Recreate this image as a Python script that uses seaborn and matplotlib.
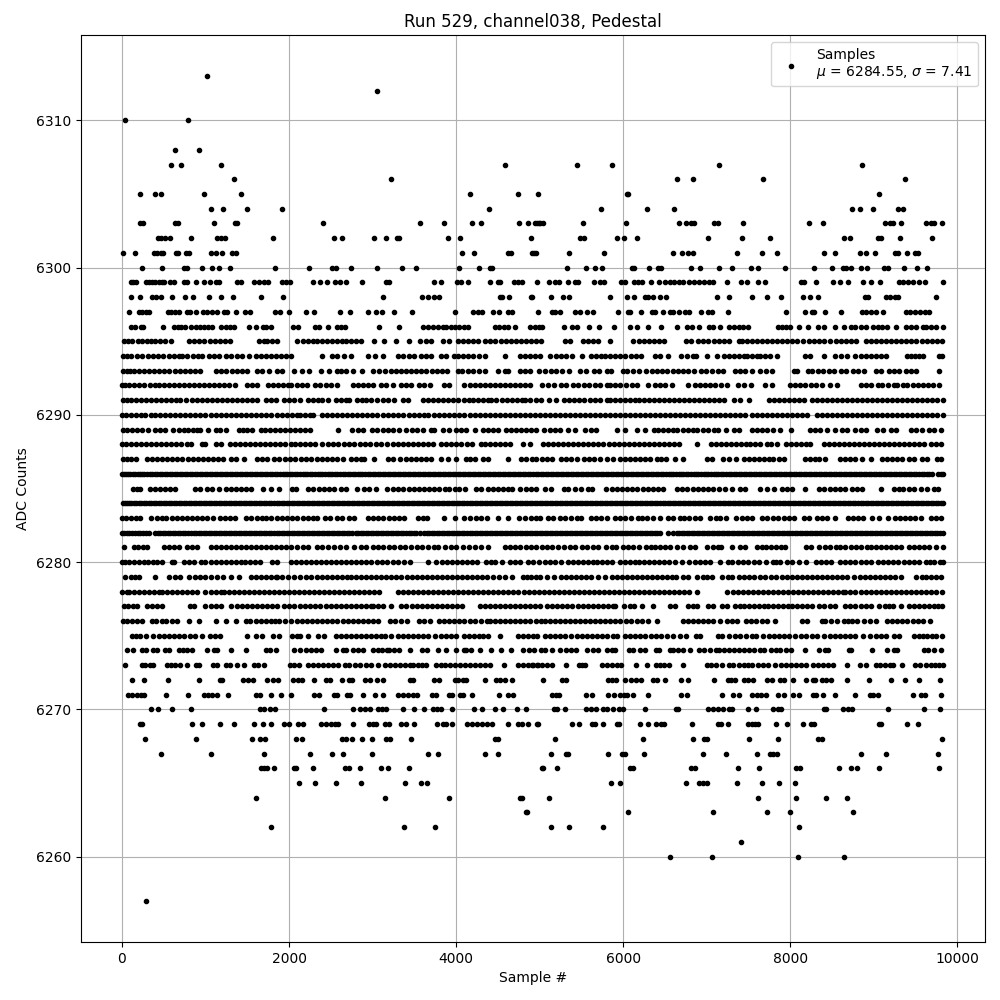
import pandas as pd
import seaborn as sns
import matplotlib
matplotlib.use("Agg")
import matplotlib.pyplot as plt

# sample numbers, one list per ADC level
adc_6313 = [1020]
adc_6312 = [3048]
adc_6310 = [36, 792]
adc_6308 = [636, 924]
adc_6307 = [588, 708, 1188, 4584, 5444, 5864, 7148, 8852]
adc_6306 = [1344, 3216, 6644, 6836, 7676, 9368]
adc_6305 = [216, 396, 468, 984, 1428, 4164, 4740, 4976, 6040, 6060, 9056]
adc_6304 = [1068, 1212, 1500, 1920, 4392, 5732, 6284, 6608, 8744, 8828, 8984, 9284, 9344]
adc_6303 = [216, 248, 636, 668, 1104, 1352, 1376, 2412, 3564, 3852, 4188, 4296, 4752, 4860, 4948, 4968, 4992, 5008, 5040,
            5516, 6036, 6668, 6748, 6812, 6848, 7084, 7132, 7436, 8228, 8396, 9128, 9188, 9224, 9320, 9620, 9680, 9716, 9812]
adc_6302 = [432, 464, 516, 576, 828, 1140, 1184, 1236, 1812, 2544, 2628, 3012, 3156, 3292, 3316, 3900, 4044, 4896,
            5488, 5528, 5924, 6008, 6164, 7016, 7424, 7760, 8648, 8720, 9048, 9080, 9308, 9692]
adc_6301 = [12, 156, 384, 424, 464, 488, 648, 668, 768, 800, 1068, 1128, 1200, 1320, 1364, 4068, 4212, 4616, 4656, 4908, 4936, 4952,
            5348, 5768, 6596, 6704, 6776, 6836, 7364, 7664, 7844, 8408, 8540, 8828, 8900, 9008, 9248, 9288, 9392, 9488, 9528]
adc_6300 = [240, 480, 744, 784, 964, 1080, 1164, 1296, 1836, 2244, 2520, 2568, 2736, 3048, 3348, 3516, 4036, 4272, 4400, 4424,
            5324, 5552, 5660, 5744, 6104, 6128, 6308, 6416, 6448, 6812, 6920, 7148, 7304, 7532, 7616, 7940, 8288, 8504, 8636,
            8668, 8732, 8840, 8912, 9116, 9168, 9356, 9512, 9632]
adc_6299 = [104, 128, 164, 284, 320, 360, 400, 440, 480, 504, 576, 624, 744, 776, 888, 984, 1056, 1128, 1164, 1380, 1424, 1584,
            1644, 1704, 1744, 1920, 1968, 2016, 2292, 2376, 2460, 2556, 2612, 2676, 2868, 3156, 3200, 3732, 3816, 4012, 4056,
            4140, 4404, 4500, 4524, 4692, 4736, 4792, 4964, 5108, 5188, 5236, 5336, 5420, 5460, 5648, 5720, 5768, 5968, 6016,
            6128, 6176, 6224, 6332, 6428, 6500, 6560, 6608, 6668, 6712, 6788, 6848, 6908, 6968, 7028, 7080, 7244, 7412, 7484,
            7616, 7700, 8132, 8168, 8304, 8516, 8600, 8696, 8864, 8960, 9068, 9296, 9348, 9408, 9468, 9536, 9608, 9824]
adc_6298 = [108, 216, 360, 408, 468, 600, 756, 852, 1044, 1188, 1332, 1668, 1932, 3120, 3588, 3660, 3732, 3792, 4524, 4544,
            4632, 4896, 4908, 5132, 5276, 5348, 5840, 6048, 6128, 6260, 6296, 6356, 6440, 6512, 7124, 7268, 7544, 7724, 7892,
            8156, 8240, 8336, 8888, 8928, 9140, 9188, 9248, 9288, 9740]
adc_6297 = [84, 204, 244, 284, 324, 552, 592, 632, 684, 780, 816, 892, 976, 1016, 1080, 1136, 1224, 1260, 1368, 1476, 1536, 1832,
            1896, 2000, 2208, 2304, 2604, 2724, 2940, 3036, 3108, 3252, 3468, 3984, 4200, 4256, 4312, 4440, 4512, 4624, 4672,
            4976, 5152, 5188, 5240, 5428, 5480, 5564, 5636, 5936, 6056, 6080, 6212, 6344, 6380, 6476, 6560, 6596, 6668, 6740,
            6788, 6932, 7016, 7068, 7256, 7952, 8180, 8264, 8288, 8420, 8612, 8852, 8908, 8968, 9028, 9108, 9388, 9428, 9488,
            9548, 9608, 9656]
adc_6296 = [104, 152, 224, 256, 496, 624, 668, 712, 760, 824, 884, 930, 980, 1030, 1080, 1180, 1244, 1288, 1344, 1524, 1600, 1684,
            1730, 1784, 2044, 2104, 2312, 2364, 2464, 2576, 2620, 2664, 3072, 3312, 3604, 3660, 3720, 3780, 3840, 3884, 3944,
            3990, 4040, 4090, 4144, 4464, 4510, 4570, 4624, 4704, 4884, 4940, 4990, 5024, 5288, 5388, 5448, 5588, 5708, 5884,
            6076, 6160, 6296, 6452, 6640, 6768, 6820, 6908, 7028, 7076, 7160, 7268, 7320, 7380, 7430, 7488, 7848, 7900, 7950,
            8000, 8108, 8216, 8328, 8408, 8536, 8648, 8728, 8780, 8840, 8900, 8988, 9048, 9100, 9160, 9268, 9388, 9448, 9508,
            9588, 9628, 9688, 9748, 9828]
adc_6295 = [24, 70, 120, 190, 240, 296, 352, 400, 460, 520, 584, 804, 860, 920, 980, 1056, 1110, 1170, 1230, 1296,
            1640, 1700, 1740, 1800, 1860, 2096, 2170, 2230, 2290, 2340, 2400, 2460, 2510, 2570, 2630, 2680, 2740, 2800, 2860,
            3016, 3136, 3280, 3436, 3572, 3640, 3700, 3840, 3910, 4020, 4080, 4140, 4200, 4260, 4340, 4400, 4460, 4540,
            4600, 4660, 4720, 4780, 4840, 4900, 4960, 5020, 5300, 5360, 5524, 5580, 5640, 5700, 5836, 6120, 6190, 6250, 6310,
            6370, 6430, 6490, 6750, 6810, 6900, 6960, 7020, 7090, 7150, 7210, 7260, 7380, 7420, 7480, 7540, 7606, 7660, 7720,
            7780, 7840, 7900, 7960, 8020, 8080, 8150, 8220, 8280, 8340, 8400, 8480, 8545, 8610, 8670, 8730, 8788, 8900, 8960,
            9030, 9090, 9150, 9210, 9270, 9330, 9390, 9450, 9510, 9570, 9630, 9690, 9750, 9820]
adc_6294 = [10, 60, 110, 180, 240, 310, 370, 430, 490, 560, 620, 680, 720, 780, 850, 910, 960, 1040, 1100, 1160, 1240, 1300, 1380,
            1440, 1520, 1600, 1660, 1720, 1790, 1840, 1900, 1960, 2020, 2400, 2520, 2580, 2660, 2740, 2950, 3030, 3130, 3310,
            3370, 3430, 3500, 3580, 3640, 3700, 3820, 3880, 3970, 4020, 4080, 4140, 4200, 4270, 4340, 4580, 4770, 4830, 4890,
            4940, 5000, 5120, 5190, 5260, 5320, 5390, 5510, 5610, 5670, 5730, 5780, 5840, 5900, 5960, 6020, 6090, 6150, 6210,
            6380, 6440, 6540, 6690, 6760, 6830, 6870, 7000, 7120, 7210, 7260, 7320, 7380, 7440, 7480, 7540, 7600, 7640, 7700,
            7760, 7840, 8180, 8240, 8400, 8540, 8610, 8680, 8780, 8840, 8900, 8960, 9020, 9080, 9150, 9440, 9490, 9590, 9820,
            9780, 9540, 9400]
adc_6293 = [16, 60, 100, 150, 210, 260, 320, 380, 440, 500, 560, 640, 700, 760, 820, 880, 940, 1120, 1180, 1240, 1320, 1380, 1440, 1500,
            1620, 1680, 1760, 1860, 1920, 2060, 2150, 2240, 2380, 2480, 2570, 2620, 2680, 2760, 2870, 3000, 3080, 3150, 3220,
            3280, 3340, 3400, 3460, 3520, 3580, 3640, 3710, 3770, 3830, 3890, 4020, 4070, 4140, 4200, 4270, 4340, 4500, 4580,
            4620, 4770, 4830, 4890, 4990, 5060, 5130, 5190, 5270, 5350, 5480, 5560, 5650, 5710, 5800, 5850, 6000, 6050, 6120,
            6190, 6270, 6340, 6400, 6460, 6520, 6600, 6660, 6720, 6780, 6850, 6930, 6990, 7060, 7130, 7200, 7340, 7400, 7460,
            7540, 7640, 7710, 7780, 8040, 8080, 8210, 8260, 8330, 8390, 8460, 8520, 8610, 8670, 8750, 8810, 8880, 9020, 9080,
            9180, 9240, 9300, 9390, 9440, 9500, 9780]
adc_6292 = [0, 40, 90, 150, 210, 270, 330, 390, 440, 500, 560, 620, 680, 740, 800, 860, 920, 980, 1040, 1100, 1160, 1220, 1280,
            1350, 1500, 1560, 1620, 1750, 1810, 1870, 1930, 1990, 2020, 2100, 2160, 2220, 2310, 2370, 2440, 2500, 2570, 2760,
            2820, 2880, 2940, 3000, 3100, 3160, 3240, 3340, 3400, 3460, 3560, 3620, 3690, 3850, 3910, 4100, 4160, 4220, 4280,
            4340, 4400, 4460, 4520, 4580, 4640, 4700, 4760, 4820, 4880, 5030, 5100, 5170, 5250, 5320, 5400, 5460, 5530, 5590,
            5660, 5720, 5800, 5840, 5900, 5960, 6030, 6100, 6170, 6300, 6380, 6440, 6500, 6580, 6780, 6860, 6920, 6980, 7040,
            7100, 7170, 7240, 7370, 7440, 7530, 7700, 7780, 8000, 8060, 8120, 8170, 8250, 8310, 8380, 8480, 8560, 8850, 8900,
            8970, 9050, 9100, 9170, 9240, 9280, 9350, 9400, 9470, 9530, 9590, 9650, 9710, 9780]
adc_6291 = [8, 60, 110, 170, 230, 290, 350, 410, 470, 530, 590, 650, 700, 770, 840, 900, 960, 1020, 1080, 1140, 1200, 1260, 1320, 1380,
            1440, 1500, 1560, 1620, 1720, 1780, 1840, 1940, 2000, 2060, 2130, 2230, 2290, 2350, 2400, 2470, 2560, 2620, 2680,
            2720, 2810, 2870, 2920, 2980, 3050, 3120, 3190, 3260, 3360, 3420, 3600, 3660, 3720, 3780, 3840, 3900, 3960, 4020,
            4090, 4150, 4200, 4260, 4320, 4380, 4420, 4480, 4550, 4610, 4670, 4730, 4790, 4830, 4890, 4950, 5020, 5110, 5200,
            5290, 5350, 5410, 5470, 5530, 5600, 5660, 5720, 5800, 5840, 5900, 5960, 6020, 6080, 6140, 6190, 6250, 6310, 6370,
            6430, 6490, 6550, 6610, 6670, 6730, 6790, 6850, 6910, 6970, 7030, 7090, 7150, 7210, 7320, 7400, 7500, 7740, 7800,
            7860, 7920, 7980, 8040, 8100, 8160, 8260, 8320, 8380, 8440, 8500, 8560, 8620, 8680, 8740, 8800, 8860, 8920, 8980,
            9040, 9100, 9160, 9220, 9280, 9340, 9400, 9460, 9520, 9580, 9640, 9700, 9760, 9830]
adc_6290 = [0, 50, 110, 170, 230, 280, 350, 400, 460, 520, 580, 640, 700, 760, 820, 880, 940, 1000, 1060, 1130, 1190, 1250, 1310, 1370,
            1430, 1490, 1550, 1610, 1670, 1730, 1790, 1850, 1910, 1970, 2030, 2090, 2130, 2190, 2250, 2290, 2390, 2450, 2510,
            2570, 2630, 2690, 2750, 2810, 2870, 2930, 2990, 3050, 3130, 3190, 3250, 3310, 3370, 3430, 3500, 3550, 3610, 3660,
            3740, 3800, 3860, 3920, 3980, 4040, 4100, 4160, 4220, 4280, 4340, 4400, 4460, 4520, 4580, 4640, 4700, 4760, 4820,
            4880, 4940, 5000, 5060, 5120, 5180, 5240, 5300, 5360, 5420, 5480, 5540, 5600, 5660, 5720, 5780, 5840, 5900, 5960,
            6020, 6080, 6140, 6200, 6260, 6320, 6380, 6440, 6500, 6560, 6620, 6680, 6740, 6800, 6860, 6920, 6980, 7040, 7100,
            7160, 7220, 7280, 7340, 7400, 7460, 7540, 7600, 7660, 7720, 7780, 7840, 7900, 7960, 8020, 8080, 8140, 8200, 8320,
            8380, 8440, 8500, 8560, 8620, 8680, 8740, 8800, 8860, 8920, 8980, 9040, 9100, 9160, 9220, 9280, 9340, 9400, 9460,
            9520, 9580, 9640, 9700, 9760, 9830]
adc_6289 = [16, 60, 120, 180, 240, 310, 400, 450, 520, 610, 680, 740, 790, 850, 900, 940, 1030, 1120, 1170, 1240, 1400, 1450, 1500,
            1560, 1660, 1710, 1770, 1830, 1890, 1950, 2010, 2070, 2130, 2190, 2250, 2590, 2750, 2820, 2880, 2990, 3050, 3130,
            3190, 3250, 3320, 3400, 3470, 3530, 3600, 3700, 3740, 3840, 3910, 4000, 4060, 4120, 4220, 4320, 4380, 4440, 4500,
            4600, 4660, 4720, 4780, 4840, 4900, 4960, 5050, 5120, 5180, 5240, 5340, 5420, 5540, 5610, 5680, 5920, 6020, 6170,
            6260, 6370, 6420, 6480, 6540, 6600, 6640, 6710, 6780, 6830, 6880, 6950, 7020, 7090, 7140, 7230, 7320, 7380, 7540,
            7600, 7660, 7720, 7790, 7880, 8010, 8230, 8300, 8360, 8440, 8540, 8620, 8680, 8780, 8840, 8910, 9040, 9110, 9200,
            9270, 9440, 9500, 9570, 9660, 9720, 9800]
adc_6288 = [0, 50, 110, 170, 230, 290, 350, 410, 470, 530, 590, 650, 710, 780, 830, 960, 1000, 1130, 1190, 1290, 1350, 1410, 1470, 1530,
            1590, 1650, 1710, 1770, 1830, 1890, 1950, 2020, 2070, 2130, 2190, 2250, 2310, 2400, 2470, 2530, 2590, 2660, 2720,
            2780, 2850, 2910, 2970, 3040, 3100, 3170, 3240, 3300, 3360, 3420, 3480, 3540, 3600, 3660, 3720, 3820, 3880, 3940,
            4000, 4060, 4130, 4190, 4300, 4350, 4410, 4470, 4530, 4590, 4650, 4800, 4890, 5040, 5100, 5160, 5220, 5280, 5340,
            5400, 5460, 5520, 5580, 5640, 5700, 5760, 5830, 5890, 5950, 6010, 6070, 6130, 6190, 6250, 6310, 6370, 6430, 6490,
            6550, 6610, 6670, 6880, 7050, 7110, 7170, 7230, 7290, 7350, 7410, 7470, 7520, 7580, 7640, 7720, 7770, 7840, 7950,
            8010, 8070, 8130, 8190, 8240, 8400, 8460, 8520, 8580, 8640, 8700, 8760, 8820, 8880, 8940, 9000, 9060, 9120, 9180,
            9240, 9300, 9360, 9420, 9480, 9540, 9600, 9680, 9740, 9800]
adc_6287 = [16, 60, 110, 170, 300, 360, 420, 480, 540, 600, 660, 720, 790, 850, 910, 970, 1030, 1090, 1150, 1210, 1310, 1370, 1460,
            1620, 1680, 1740, 1820, 1880, 1950, 2010, 2070, 2140, 2200, 2260, 2330, 2390, 2450, 2520, 2580, 2650, 2740, 2800, 2860,
            2900, 3020, 3180, 3240, 3330, 3400, 3460, 3520, 3580, 3640, 3700, 3820, 3900, 4000, 4120, 4170, 4230, 4320, 4380,
            4620, 4780, 4840, 4910, 4960, 5030, 5090, 5150, 5250, 5310, 5370, 5450, 5530, 5590, 5650, 5720, 5800, 5880, 5960,
            6020, 6080, 6140, 6200, 6260, 6320, 6400, 6450, 6510, 6620, 6720, 7000, 7060, 7200, 7260, 7350, 7440, 7500, 7560,
            7620, 7680, 7740, 7790, 7860, 7920, 8170, 8240, 8290, 8340, 8410, 8590, 8650, 8710, 8780, 8860, 8960, 9100, 9160,
            9220, 9280, 9340, 9420, 9480, 9580, 9640, 9760, 9800]
adc_6286 = [0, 50, 100, 160, 220, 270, 330, 390, 450, 510, 570, 630, 690, 750, 810, 870, 930, 990, 1050, 1110, 1170, 1230, 1290,
            1350, 1410, 1470, 1530, 1590, 1650, 1710, 1770, 1830, 1890, 1950, 2010, 2070, 2130, 2190, 2250, 2310, 2370, 2430,
            2490, 2550, 2610, 2670, 2730, 2790, 2850, 2910, 2970, 3030, 3090, 3150, 3210, 3270, 3330, 3390, 3450, 3510, 3570,
            3630, 3690, 3750, 3810, 3870, 3930, 3990, 4050, 4110, 4170, 4230, 4290, 4350, 4410, 4470, 4530, 4590, 4650, 4710,
            4770, 4830, 4890, 4950, 5010, 5070, 5130, 5190, 5250, 5310, 5370, 5430, 5490, 5550, 5610, 5670, 5730, 5790, 5850,
            5910, 5970, 6030, 6090, 6150, 6210, 6270, 6330, 6390, 6450, 6510, 6570, 6630, 6690, 6750, 6810, 6870, 6930, 6990,
            7050, 7110, 7170, 7230, 7290, 7350, 7410, 7470, 7530, 7590, 7650, 7710, 7770, 7830, 7890, 7950, 8010, 8070, 8130,
            8190, 8250, 8310, 8370, 8430, 8490, 8550, 8610, 8670, 8730, 8790, 8850, 8910, 8970, 9030, 9090, 9150, 9210, 9270,
            9330, 9390, 9450, 9510, 9570, 9630, 9700, 9770, 9830,
            24, 76, 128, 190, 244, 300, 362, 420, 478, 540, 598, 662, 720, 782, 838, 900, 962, 1020, 1082, 1140, 1202, 1258,
            1322, 1380, 1440, 1498, 1562, 1620, 1682, 1738, 1802, 1858, 1922, 1980, 2040, 2098, 2162, 2220, 2280, 2342, 2400,
            2462, 2520, 2580, 2642, 2700, 2762, 2820, 2878, 2942, 3002, 3060, 3120, 3182, 3240, 3302, 3360, 3422, 3480, 3540,
            3602, 3660, 3720, 3782, 3840, 3900, 3962, 4020, 4082, 4140, 4200, 4262, 4320, 4380, 4442, 4500, 4562, 4620, 4682,
            4740, 4800, 4862, 4920, 4982, 5040, 5100, 5162, 5220, 5282, 5340, 5400, 5462, 5520, 5582, 5640, 5702, 5760, 5820,
            5880, 5942, 6000, 6062, 6120, 6182, 6240, 6302, 6360, 6422, 6480, 6542, 6600, 6662, 6720, 6780, 6842, 6900, 6962,
            7020, 7082, 7140, 7200, 7262, 7320, 7382, 7440, 7502, 7560, 7622, 7680, 7742, 7800, 7860, 7922, 7980, 8042, 8100,
            8162, 8220, 8280, 8342, 8400, 8462, 8520, 8582, 8640, 8702, 8760, 8820, 8882, 8940, 9002, 9060, 9122, 9180, 9242,
            9300, 9360, 9422, 9480, 9542, 9600, 9662, 9800]
adc_6285 = [130, 180, 220, 340, 400, 460, 510, 580, 640, 880, 940, 1020, 1080, 1160, 1240, 1300, 1360, 1420, 1480, 1540, 1690, 1780,
            1880, 2030, 2080, 2230, 2290, 2360, 2420, 2480, 2540, 2620, 2680, 2810, 2900, 2960, 3040, 3170, 3240, 3300, 3360,
            3440, 3500, 3560, 3620, 3680, 3740, 3800, 3870, 3920, 3990, 4040, 4110, 4240, 4300, 4380, 4440, 4500, 4560, 4620,
            4670, 4760, 4840, 4900, 4960, 5060, 5130, 5290, 5340, 5420, 5500, 5580, 5630, 5790, 5860, 5920, 5980, 6050, 6110,
            6170, 6240, 6300, 6360, 6420, 6480, 6640, 6700, 6760, 6830, 6890, 6950, 7010, 7080, 7150, 7220, 7300, 7400, 7460,
            7640, 7720, 7800, 7900, 7960, 8020, 8170, 8340, 8400, 8480, 8540, 8600, 8660, 8740, 8800, 8860, 9090, 9240, 9300,
            9350, 9420, 9480, 9560, 9640, 9720, 9770]
adc_6284 = [16, 60, 110, 170, 230, 290, 350, 410, 470, 530, 590, 650, 710, 770, 830, 890, 950, 1010, 1070, 1130, 1190, 1250, 1310,
            1370, 1430, 1490, 1550, 1610, 1670, 1730, 1790, 1850, 1910, 1970, 2030, 2090, 2150, 2210, 2270, 2330, 2390, 2450,
            2510, 2570, 2630, 2690, 2750, 2810, 2870, 2930, 2990, 3050, 3110, 3170, 3230, 3290, 3350, 3410, 3470, 3530, 3590,
            3650, 3710, 3770, 3830, 3890, 3950, 4010, 4070, 4130, 4190, 4250, 4310, 4370, 4430, 4490, 4550, 4610, 4670, 4730,
            4790, 4850, 4910, 4970, 5030, 5090, 5150, 5210, 5270, 5330, 5390, 5450, 5510, 5570, 5630, 5690, 5750, 5810, 5870,
            5930, 5990, 6050, 6110, 6170, 6230, 6290, 6350, 6410, 6470, 6530, 6590, 6650, 6710, 6770, 6830, 6890, 6950, 7010,
            7070, 7130, 7190, 7250, 7310, 7370, 7430, 7490, 7550, 7610, 7670, 7730, 7790, 7850, 7910, 7970, 8030, 8090, 8150,
            8210, 8270, 8330, 8390, 8450, 8510, 8570, 8630, 8690, 8750, 8810, 8870, 8930, 8990, 9050, 9110, 9170, 9230, 9290,
            9350, 9410, 9470, 9530, 9590, 9650, 9710, 9770, 9830,
            38, 84, 140, 200, 260, 320, 380, 440, 500, 560, 620, 680, 740, 800, 860, 920, 980, 1040, 1100, 1160, 1220, 1280,
            1340, 1400, 1460, 1520, 1580, 1640, 1700, 1760, 1820, 1880, 1940, 2000, 2060, 2120, 2180, 2240, 2300, 2360, 2420,
            2480, 2540, 2600, 2660, 2720, 2780, 2840, 2900, 2960, 3020, 3080, 3140, 3200, 3260, 3320, 3380, 3440, 3500, 3560,
            3620, 3680, 3740, 3800, 3860, 3920, 3980, 4040, 4100, 4160, 4220, 4280, 4340, 4400, 4460, 4520, 4580, 4640, 4700,
            4760, 4820, 4880, 4940, 5000, 5060, 5120, 5180, 5240, 5300, 5360, 5420, 5480, 5540, 5600, 5660, 5720, 5780, 5840,
            5900, 5960, 6020, 6080, 6140, 6200, 6260, 6320, 6380, 6440, 6500, 6560, 6620, 6680, 6740, 6800, 6860, 6920, 6980,
            7040, 7100, 7160, 7220, 7280, 7340, 7400, 7460, 7520, 7580, 7640, 7700, 7760, 7820, 7880, 7940, 8000, 8060, 8120,
            8180, 8240, 8300, 8360, 8420, 8480, 8540, 8600, 8660, 8720, 8780, 8840, 8900, 8960, 9020, 9080, 9140, 9200, 9260,
            9320, 9380, 9440, 9500, 9560, 9620, 9680, 9740, 9800]
adc_6283 = [0, 50, 110, 170, 220, 350, 420, 480, 530, 600, 660, 720, 780, 840, 900, 960, 1020, 1090, 1170, 1230, 1290, 1350, 1480,
            1540, 1620, 1680, 1730, 1790, 1860, 1920, 1980, 2040, 2100, 2170, 2230, 2290, 2340, 2430, 2490, 2570, 2630, 2720, 2780,
            2950, 3010, 3070, 3130, 3200, 3260, 3320, 3380, 3540, 3600, 3650, 3860, 3990, 4100, 4160, 4240, 4300, 4370,
            4500, 4620, 4750, 4820, 4900, 4960, 5000, 5100, 5160, 5240, 5300, 5380, 5450, 5500, 5610, 5670, 5730, 5800, 5900,
            5960, 6020, 6090, 6180, 6230, 6290, 6360, 6440, 6540, 6600, 6680, 6730, 6790, 6860, 6920, 7040, 7110, 7160, 7230,
            7350, 7420, 7480, 7540, 7660, 7720, 7790, 7850, 7920, 7980, 8040, 8160, 8220, 8320, 8380, 8440, 8530, 8690, 8750,
            8810, 8870, 8980, 9060, 9170, 9250, 9310, 9370, 9430, 9490, 9560, 9680, 9740, 9800]
adc_6282 = [0, 60, 120, 190, 250, 320, 400, 460, 520, 580, 640, 700, 760, 830, 890, 950, 1010, 1070, 1130, 1190, 1250, 1310, 1370,
            1430, 1490, 1550, 1610, 1670, 1730, 1790, 1850, 1910, 1970, 2030, 2090, 2150, 2210, 2270, 2330, 2390, 2450, 2510,
            2570, 2630, 2690, 2750, 2800, 2860, 2920, 2980, 3040, 3100, 3160, 3220, 3280, 3340, 3400, 3460, 3520, 3570, 3620, 3680,
            3740, 3800, 3860, 3920, 3980, 4040, 4100, 4160, 4220, 4280, 4340, 4400, 4460, 4520, 4580, 4640, 4700, 4760, 4820,
            4880, 4940, 5000, 5060, 5120, 5180, 5240, 5300, 5360, 5420, 5480, 5540, 5600, 5660, 5720, 5780, 5840, 5900, 5960,
            6020, 6080, 6140, 6200, 6260, 6320, 6380, 6440, 6540, 6590, 6640, 6700, 6760, 6820, 6880, 6940, 7000, 7060, 7120,
            7180, 7240, 7300, 7360, 7420, 7480, 7540, 7600, 7660, 7720, 7780, 7840, 7900, 7960, 8020, 8080, 8140, 8200, 8260,
            8320, 8380, 8440, 8500, 8560, 8620, 8680, 8740, 8800, 8860, 8920, 8980, 9040, 9100, 9160, 9220, 9280, 9340, 9400,
            9460, 9520, 9580, 9640, 9700, 9760, 9830,
            30, 90, 155, 220, 285, 430, 490, 550, 610, 670, 730, 795, 860, 920, 980, 1040, 1100, 1160, 1220, 1280, 1340, 1400,
            1460, 1520, 1580, 1640, 1700, 1760, 1820, 1880, 1940, 2000, 2060, 2120, 2180, 2240, 2300, 2360, 2420, 2480, 2540,
            2600, 2660, 2720, 2830, 2890, 2950, 3010, 3070, 3130, 3190, 3250, 3310, 3370, 3430, 3490, 3650, 3710, 3770, 3830,
            3890, 3950, 4010, 4070, 4130, 4190, 4250, 4310, 4370, 4430, 4490, 4550, 4610, 4670, 4730, 4790, 4850, 4910, 4970,
            5030, 5090, 5150, 5210, 5270, 5330, 5390, 5450, 5510, 5570, 5630, 5690, 5750, 5810, 5870, 5930, 5990, 6050, 6110,
            6170, 6230, 6290, 6350, 6410, 6670, 6730, 6790, 6850, 6910, 6970, 7030, 7090, 7150, 7210, 7270, 7330, 7390, 7450,
            7510, 7570, 7630, 7690, 7750, 7810, 7870, 7930, 7990, 8050, 8110, 8170, 8230, 8290, 8350, 8410, 8470, 8530, 8590,
            8650, 8710, 8770, 8830, 8890, 8950, 9010, 9070, 9130, 9190, 9250, 9310, 9370, 9430, 9490, 9550, 9610, 9670, 9730, 9790]
adc_6281 = [24, 140, 190, 250, 300, 500, 560, 620, 680, 780, 840, 900, 1060, 1130, 1190, 1250, 1310, 1370, 1430, 1490, 1550, 1600, 1660, 1720,
            1780, 1840, 1900, 1960, 2020, 2100, 2170, 2230, 2340, 2400, 2470, 2540, 2610, 2680, 2780, 2860, 2920, 3000, 3070,
            3130, 3200, 3260, 3330, 3390, 3460, 3530, 3590, 3660, 3730, 3780, 3870, 3940, 4000, 4080, 4150, 4220, 4300, 4380,
            4580, 4640, 4700, 4760, 4840, 4900, 4960, 5030, 5090, 5150, 5220, 5290, 5360, 5420, 5510, 5570, 5640, 5700, 5790,
            5860, 5910, 6000, 6060, 6120, 6190, 6270, 6330, 6380, 6440, 6500, 6560, 6640, 6720, 6800, 6860, 7000, 7080, 7140,
            7170, 7300, 7400, 7460, 7600, 7660, 7710, 7770, 7830, 7890, 7940, 8190, 8250, 8340, 8420, 8480, 8550,
            8600, 8660, 8730, 8790, 8850, 8920, 8970, 9030, 9090, 9150, 9210, 9270, 9330, 9420, 9480, 9540, 9600, 9660, 9740, 9830]
adc_6280 = [0, 40, 90, 150, 200, 260, 310, 370, 420, 480, 600, 620, 740, 800, 860, 950, 1000, 1060, 1120, 1180, 1240, 1300, 1360, 1420,
            1470, 1530, 1590, 1650, 1800, 1860, 2020, 2080, 2140, 2200, 2260, 2320, 2380, 2440, 2500, 2560, 2620, 2680, 2740,
            2800, 2860, 2920, 2980, 3050, 3110, 3170, 3240, 3300, 3380, 3450, 3660, 3760, 3830, 3890, 3950, 4010, 4070, 4130,
            4190, 4250, 4360, 4420, 4470, 4550, 4640, 4700, 4770, 4860, 4920, 4990, 5060, 5120, 5180, 5250, 5340, 5400, 5460,
            5520, 5580, 5640, 5690, 5750, 5810, 5870, 5960, 6020, 6080, 6140, 6190, 6250, 6310, 6370, 6430, 6490, 6550, 6620,
            6700, 6790, 6860, 6920, 6980, 7040, 7160, 7250, 7300, 7370, 7430, 7490, 7560, 7620, 7710, 7790, 7830, 7880, 7960,
            8020, 8100, 8190, 8310, 8370, 8430, 8490, 8590, 8650, 8720, 8780, 8840, 8900, 8970, 9050, 9110, 9170, 9230, 9290,
            9360, 9420, 9480, 9540, 9620, 9670, 9720, 9790, 9830]
adc_6279 = [40, 110, 160, 210, 400, 560, 640, 690, 800, 870, 930, 990, 1060, 1140, 1210, 1310, 1400, 1540, 1600, 1660, 1720, 1780, 1840,
            1860, 1920, 1990, 2060, 2130, 2200, 2260, 2330, 2390, 2450, 2510, 2570, 2630, 2690, 2740, 2800, 2860, 2920, 2980,
            3040, 3100, 3160, 3220, 3280, 3340, 3410, 3470, 3530, 3590, 3650, 3710, 3770, 3830, 3890, 3950, 4010, 4070, 4130,
            4190, 4250, 4310, 4370, 4440, 4510, 4580, 4670, 4800, 4850, 4900, 4960, 5000, 5090, 5170, 5250, 5310, 5370, 5430,
            5490, 5550, 5620, 5700, 5780, 5860, 5920, 5980, 6040, 6100, 6160, 6220, 6280, 6340, 6400, 6460, 6520, 6580, 6630,
            6710, 6780, 6880, 6950, 7000, 7060, 7180, 7250, 7300, 7380, 7450, 7510, 7570, 7640, 7700, 7770, 7830, 7900, 7960,
            8020, 8080, 8140, 8200, 8260, 8320, 8380, 8440, 8500, 8560, 8620, 8680, 8760, 8830, 8890, 8950, 9010, 9070, 9130,
            9190, 9250, 9330, 9500, 9570, 9620, 9680, 9740, 9800]
adc_6278 = [0, 60, 90, 140, 200, 260, 320, 380, 440, 480, 540, 600, 660, 720, 780, 840, 900, 1000, 1060, 1120, 1180, 1220, 1280, 1340,
            1400, 1460, 1520, 1580, 1640, 1700, 1760, 1820, 1880, 1940, 2000, 2060, 2120, 2180, 2240, 2300, 2360, 2420, 2480,
            2540, 2600, 2660, 2720, 2780, 2840, 2900, 2960, 3020, 3080, 3300, 3360, 3420, 3480, 3540, 3600, 3660, 3720, 3780,
            3840, 3900, 3960, 4020, 4080, 4140, 4200, 4260, 4320, 4380, 4440, 4500, 4560, 4620, 4680, 4740, 4810, 4870, 4930,
            4990, 5050, 5110, 5170, 5230, 5290, 5350, 5410, 5470, 5530, 5590, 5650, 5710, 5770, 5830, 5890, 5950, 6010, 6070,
            6130, 6190, 6250, 6310, 6370, 6430, 6490, 6550, 6610, 6670, 6730, 6790, 6880, 7240, 7310, 7370, 7430, 7490, 7550,
            7610, 7670, 7730, 7790, 7850, 7910, 7970, 8030, 8090, 8150, 8210, 8270, 8330, 8390, 8450, 8510, 8570, 8630, 8660,
            8720, 8780, 8840, 8900, 8960, 9020, 9080, 9140, 9200, 9260, 9320, 9380, 9440, 9500, 9560, 9620, 9680, 9740, 9810]
adc_6277 = [24, 70, 130, 180, 300, 360, 420, 480, 810, 860, 1000, 1060, 1120, 1190, 1300, 1380, 1440, 1500, 1560, 1620, 1680, 1740, 1800,
            1860, 1940, 2000, 2060, 2130, 2190, 2250, 2310, 2370, 2440, 2500, 2560, 2620, 2680, 2740, 2800, 2860, 2920, 2980,
            3000, 3060, 3120, 3220, 3340, 3400, 3470, 3530, 3590, 3650, 3710, 3770, 3830, 3890, 3950, 4010, 4070, 4280, 4340,
            4400, 4460, 4520, 4580, 4640, 4700, 4760, 4820, 4880, 4940, 5000, 5090, 5150, 5210, 5270, 5330, 5390, 5460, 5520,
            5580, 5640, 5700, 5760, 5820, 5880, 5900, 6010, 6080, 6130, 6220, 6360, 6560, 6620, 6770, 6830, 6880, 7020, 7080,
            7180, 7240, 7340, 7400, 7450, 7510, 7570, 7620, 7680, 7730, 7790, 7850, 7910, 7970, 8020, 8080, 8140, 8200, 8260,
            8340, 8400, 8480, 8540, 8660, 8720, 8780, 8840, 8900, 8960, 9060, 9130, 9180, 9230, 9330, 9420, 9480, 9540, 9600,
            9660, 9720, 9770, 9820]
adc_6276 = [10, 60, 120, 180, 240, 360, 410, 480, 530, 600, 660, 800, 920, 1120, 1250, 1370, 1490, 1530, 1600, 1660, 1720, 1780, 1830,
            1880, 1950, 2020, 2090, 2150, 2210, 2270, 2330, 2400, 2460, 2520, 2580, 2640, 2700, 2760, 2820, 2880, 2940, 3000,
            3060, 3210, 3270, 3340, 3410, 3550, 3620, 3690, 3790, 3850, 3910, 3970, 4040, 4100, 4160, 4230, 4300, 4370, 4410,
            4470, 4530, 4590, 4650, 4710, 4770, 4830, 4890, 4950, 5010, 5060, 5120, 5180, 5240, 5300, 5360, 5420, 5480, 5540,
            5600, 5660, 5720, 5780, 5840, 5900, 5960, 6030, 6090, 6160, 6220, 6300, 6400, 6720, 6780, 6840, 6900, 6950, 7020,
            7080, 7160, 7240, 7300, 7360, 7470, 7530, 7590, 7660, 7720, 7820, 8140, 8200, 8380, 8410, 8490, 8560, 8640, 8690,
            8740, 8800, 8880, 8950, 9030, 9160, 9220, 9280, 9340, 9400, 9470, 9530, 9590, 9670]
adc_6275 = [120, 170, 220, 290, 370, 440, 500, 560, 620, 680, 740, 810, 880, 960, 1050, 1110, 1170, 1500, 1600, 1680, 1810, 1880, 2040,
            2090, 2130, 2230, 2350, 2420, 2560, 2620, 2680, 2740, 2800, 2860, 2920, 2980, 3040, 3100, 3150, 3220, 3300, 3360,
            3420, 3480, 3540, 3600, 3660, 3750, 3820, 3880, 3940, 4000, 4090, 4150, 4210, 4270, 4320, 4380, 4530, 4740, 4800,
            4860, 4920, 4970, 5060, 5120, 5180, 5240, 5300, 5370, 5450, 5510, 5570, 5630, 5690, 5750, 5810, 5880, 5930, 6020,
            6080, 6140, 6200, 6260, 6330, 6390, 6450, 6520, 6590, 6680, 6750, 6870, 6920, 7130, 7180, 7260, 7340, 7400, 7470,
            7540, 7590, 7670, 7740, 7800, 7860, 7920, 7980, 8060, 8130, 8190, 8260, 8320, 8400, 8470, 8530, 8590, 8650, 8710,
            8780, 8870, 8950, 9020, 9080, 9140, 9240, 9300, 9480, 9540, 9590, 9640, 9690, 9740, 9820]
adc_6274 = [60, 130, 240, 290, 370, 420, 520, 560, 680, 730, 780, 840, 1020, 1100, 1140, 1310, 1480, 1720, 1770, 1840, 2060, 2130, 2200,
            2260, 2320, 2380, 2560, 2640, 2680, 2760, 2820, 2880, 3010, 3060, 3110, 3170, 3200, 3260, 3320, 3450, 3590, 3650,
            3780, 3880, 4000, 4100, 4120, 4180, 4280, 4420, 4540, 4660, 4800, 4870, 4930, 5010, 5060, 5150, 5240, 5310, 5370,
            5430, 5570, 5640, 5700, 5800, 5860, 5900, 6070, 6120, 6200, 6260, 6390, 6430, 6560, 6600, 6660, 6720, 6800, 6910,
            6970, 7040, 7110, 7150, 7210, 7270, 7330, 7380, 7440, 7500, 7570, 7640, 7690, 7770, 7830, 7880, 7950, 8010, 8170,
            8340, 8410, 8450, 8700, 8730, 8980, 9160, 9240, 9280, 9600, 9650, 9720, 9800]
adc_6273 = [32, 240, 272, 336, 376, 536, 584, 632, 692, 776, 888, 928, 1084, 1136, 1244, 1296, 1376, 1456, 1584, 1632, 1704, 2012,
            2064, 2124, 2224, 2284, 2344, 2404, 2464, 2524, 2584, 2664, 2712, 2784, 2844, 2924, 2976, 3064, 3144, 3204, 3264,
            3324, 3384, 3444, 3484, 3544, 3592, 3644, 3764, 3816, 3864, 3924, 3984, 4044, 4108, 4164, 4224, 4284, 4344, 4404,
            4572, 4744, 4804, 4864, 4908, 4924, 4968, 4984, 5028, 5088, 5148, 5316, 5468, 5508, 5548, 5748, 5808, 5868, 5928,
            5972, 6152, 6284, 6392, 6440, 6488, 6552, 6716, 7000, 7048, 7108, 7184, 7268, 7316, 7388, 7448, 7488, 7544, 7608,
            7668, 7728, 7820, 7888, 7948, 8008, 8068, 8128, 8188, 8268, 8328, 8388, 8448, 8508, 8684, 8828, 8900, 9020, 9068,
            9128, 9188, 9228, 9332, 9488, 9548, 9628, 9680, 9728, 9776, 9828]
adc_6272 = [120, 264, 552, 924, 1168, 1200, 1452, 1504, 1564, 1740, 1812, 1872, 2052, 2104, 2160, 2296, 2440, 2496, 2628, 2712, 2752,
            2904, 2964, 3048, 3120, 3444, 3484, 3732, 3796, 3984, 4024, 4080, 4120, 4344, 4472, 4524, 4584, 4664, 5036, 5264,
            5316, 5816, 5864, 5912, 6020, 6092, 6156, 6208, 6352, 6400, 6500, 6692, 6776, 7088, 7248, 7288, 7336, 7448, 7488,
            7548, 7724, 7784, 7880, 7928, 8036, 8192, 8268, 8296, 8380, 8428, 8492, 8684, 8936, 9200, 9368, 9536, 9792]
adc_6271 = [72, 124, 176, 224, 264, 528, 788, 984, 1032, 1080, 1140, 1272, 1608, 1656, 1788, 1908, 2028, 2304, 2364, 2536, 2576, 2688,
            2728, 2888, 3024, 3120, 3304, 3364, 3424, 3484, 3536, 3712, 3760, 3912, 3952, 4044, 4088, 4184, 4512, 4620, 4680,
            5152, 5192, 5232, 5552, 5624, 5816, 5888, 5960, 6008, 6048, 6116, 6296, 6696, 6768, 7184, 7316, 7388, 7544, 7596,
            7648, 7708, 7856, 7928, 8036, 8108, 8268, 8308, 8396, 8540, 8780, 8948, 8988, 9044, 9464, 9560, 9608, 9800]
adc_6270 = [348, 432, 600, 828, 1656, 1696, 1768, 1832, 2424, 2760, 2844, 2904, 2964, 3064, 3112, 3160, 3360, 3492, 3612, 3724, 3776,
            3816, 3948, 4208, 4308, 4464, 4560, 4724, 4836, 5168, 5208, 5308, 5552, 5612, 5672, 5760, 5800, 5876, 5948, 5992,
            6260, 6628, 6660, 7016, 7076, 7136, 7196, 7268, 7296, 7496, 7592, 7796, 7848, 7892, 8408, 8432, 8636, 8696, 8744,
            9164, 9596, 9788]
adc_6269 = [212, 244, 840, 960, 1176, 1344, 1584, 1692, 1788, 1944, 2004, 2112, 2172, 2384, 2444, 2504, 2552, 2592, 2760, 2952, 3004,
            3044, 3144, 3192, 3336, 3400, 3492, 3768, 3840, 3880, 3948, 4136, 4192, 4248, 4304, 4364, 4424, 4620, 4736, 4784,
            4860, 4964, 4980, 5384, 5468, 5628, 5660, 5756, 5920, 5948, 6200, 6296, 6392, 6448, 6488, 6824, 7136, 7176, 7256,
            7496, 7536, 7576, 7608, 7832, 7964, 8156, 8248, 8288, 9056, 9088, 9392, 9524]
adc_6268 = [276, 888, 1560, 1656, 1716, 2088, 2160, 2628, 2684, 2748, 2868, 2988, 3156, 3204, 3456, 4464, 4496, 5180, 6236, 6836,
            6968, 7000, 7508, 7856, 8336, 8384, 9812]
adc_6267 = [468, 1068, 1704, 2256, 2520, 2640, 2988, 3660, 3780, 4344, 4500, 5132, 5312, 5344, 5816, 5984, 6016, 6248, 6956, 7232,
            7604, 7752, 7792, 7844, 8840, 9140, 9764]
adc_6266 = [1664, 1704, 1736, 1824, 2056, 2084, 2292, 2664, 2712, 2848, 3096, 3180, 3432, 5024, 5036, 5204, 6080, 6112, 6812, 6860,
            7376, 7628, 8072, 8120, 8588, 8732, 8792, 9056, 9776]
adc_6265 = [2124, 2316, 2568, 2856, 3384, 3576, 3648, 5852, 5960, 6752, 6908, 6960, 7000, 7364, 7664, 7868, 8060]
adc_6264 = [1608, 3144, 3912, 4760, 4792, 5108, 7616, 8072, 8432, 8684]
adc_6263 = [4832, 4848, 6056, 7076, 7724, 8000, 8756]
adc_6262 = [1788, 3372, 3744, 5132, 5348, 5756, 8108]
adc_6261 = [7412]
adc_6260 = [6560, 7064, 8096, 8648]
adc_6257 = [288]

levels = [6313, 6312, 6310, 6308, 6307, 6306, 6305, 6304, 6303, 6302, 6301, 6300, 6299, 6298, 6297, 6296, 6295, 6294,
          6293, 6292, 6291, 6290, 6289, 6288, 6287, 6286, 6285, 6284, 6283, 6282, 6281, 6280, 6279, 6278, 6277, 6276,
          6275, 6274, 6273, 6272, 6271, 6270, 6269, 6268, 6267, 6266, 6265, 6264, 6263, 6262, 6261, 6260, 6257]
rows = [adc_6313, adc_6312, adc_6310, adc_6308, adc_6307, adc_6306, adc_6305, adc_6304, adc_6303, adc_6302, adc_6301,
        adc_6300, adc_6299, adc_6298, adc_6297, adc_6296, adc_6295, adc_6294, adc_6293, adc_6292, adc_6291, adc_6290,
        adc_6289, adc_6288, adc_6287, adc_6286, adc_6285, adc_6284, adc_6283, adc_6282, adc_6281, adc_6280, adc_6279,
        adc_6278, adc_6277, adc_6276, adc_6275, adc_6274, adc_6273, adc_6272, adc_6271, adc_6270, adc_6269, adc_6268,
        adc_6267, adc_6266, adc_6265, adc_6264, adc_6263, adc_6262, adc_6261, adc_6260, adc_6257]

df = pd.DataFrame([(s, lev) for lev, row in zip(levels, rows) for s in row], columns=["sample", "adc"])

fig, ax = plt.subplots(figsize=(10, 10), dpi=100)
sns.scatterplot(data=df, x="sample", y="adc", marker=".", color="k", s=36, linewidth=1, edgecolor="k",
                label="Samples\n$\\mu$ = 6284.55, $\\sigma$ = 7.41", zorder=2, ax=ax)
ax.set_title("Run 529, channel038, Pedestal")
ax.set_xlabel("Sample #")
ax.set_ylabel("ADC Counts")
ax.set_xlim(-490, 10330)
ax.set_ylim(6254.2, 6315.8)
ax.grid(True)
ax.legend(loc="upper right")
fig.subplots_adjust(left=0.081, right=0.985, top=0.965, bottom=0.058)
fig.savefig("out.png", dpi=100)
